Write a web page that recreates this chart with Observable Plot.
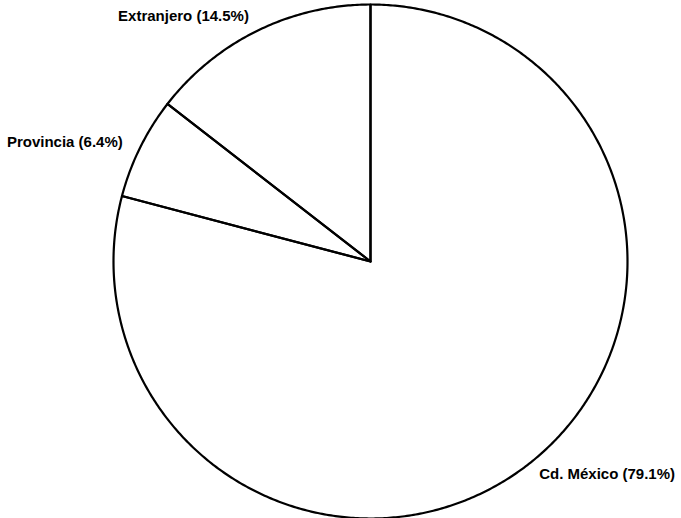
<!DOCTYPE html>
<html>
<head>
<meta charset="utf-8">
<script src="https://cdn.jsdelivr.net/npm/d3@7"></script>
<script src="https://cdn.jsdelivr.net/npm/@observablehq/plot@0.6"></script>
<style>
  html, body { margin: 0; padding: 0; background: #fff; }
  #chart svg { display: block; }
</style>
</head>
<body>
<div id="chart"></div>
<script>
// Data
const categories = ["Cd. México", "Provincia", "Extranjero"];
const values = [79.1, 6.4, 14.5];
const labels = ["Cd. México (79.1%)", "Provincia (6.4%)", "Extranjero (14.5%)"];

const data = categories.map((c, i) => ({category: c, value: values[i], label: labels[i]}));

// Pie layout: clockwise from 12 o'clock, keep the data order
const arcs = d3.pie().sort(null).value(d => d.value)(data);

// Slice outlines (center → arc → center), in unit-radius coordinates
const slicePts = [];
arcs.forEach(a => {
  const name = a.data.category;
  slicePts.push({slice: name, x: 0, y: 0});
  const n = Math.max(2, Math.ceil((a.endAngle - a.startAngle) / (Math.PI / 360)));
  for (let k = 0; k <= n; k++) {
    const t = a.startAngle + (a.endAngle - a.startAngle) * k / n;
    slicePts.push({slice: name, x: Math.sin(t), y: Math.cos(t)});
  }
  slicePts.push({slice: name, x: 0, y: 0});
});

// Label anchors just outside the mid-angle of each slice
const labelPts = arcs.map(a => {
  const m = (a.startAngle + a.endAngle) / 2;
  const rr = 1.075;
  return {
    label: a.data.label,
    x: rr * Math.sin(m),
    y: rr * Math.cos(m),
    anchor: Math.sin(m) < 0 ? "end" : "start"
  };
});

const W = 681, H = 518, cx = 370, cy = 261, R = 257;

const chart = Plot.plot({
  width: W,
  height: H,
  margin: 0,
  x: {domain: [-cx / R, (W - cx) / R], axis: null},
  y: {domain: [-(H - cy) / R, cy / R], axis: null},
  style: {background: "#fff", fontFamily: "'Liberation Sans', Arial, Helvetica, sans-serif"},
  marks: [
    Plot.line(slicePts, {x: "x", y: "y", z: "slice", stroke: "#000", strokeWidth: 2.2, strokeLinejoin: "round", curve: "linear"}),
    Plot.text(labelPts.filter(d => d.anchor === "end"), {x: "x", y: "y", dy: 3, text: "label", textAnchor: "end", fontSize: 15, fontWeight: "bold", fill: "#000"}),
    Plot.text(labelPts.filter(d => d.anchor === "start"), {x: "x", y: "y", dy: -6, text: "label", textAnchor: "start", fontSize: 15, fontWeight: "bold", fill: "#000"})
  ]
});

document.getElementById("chart").appendChild(chart);
</script>
</body>
</html>
